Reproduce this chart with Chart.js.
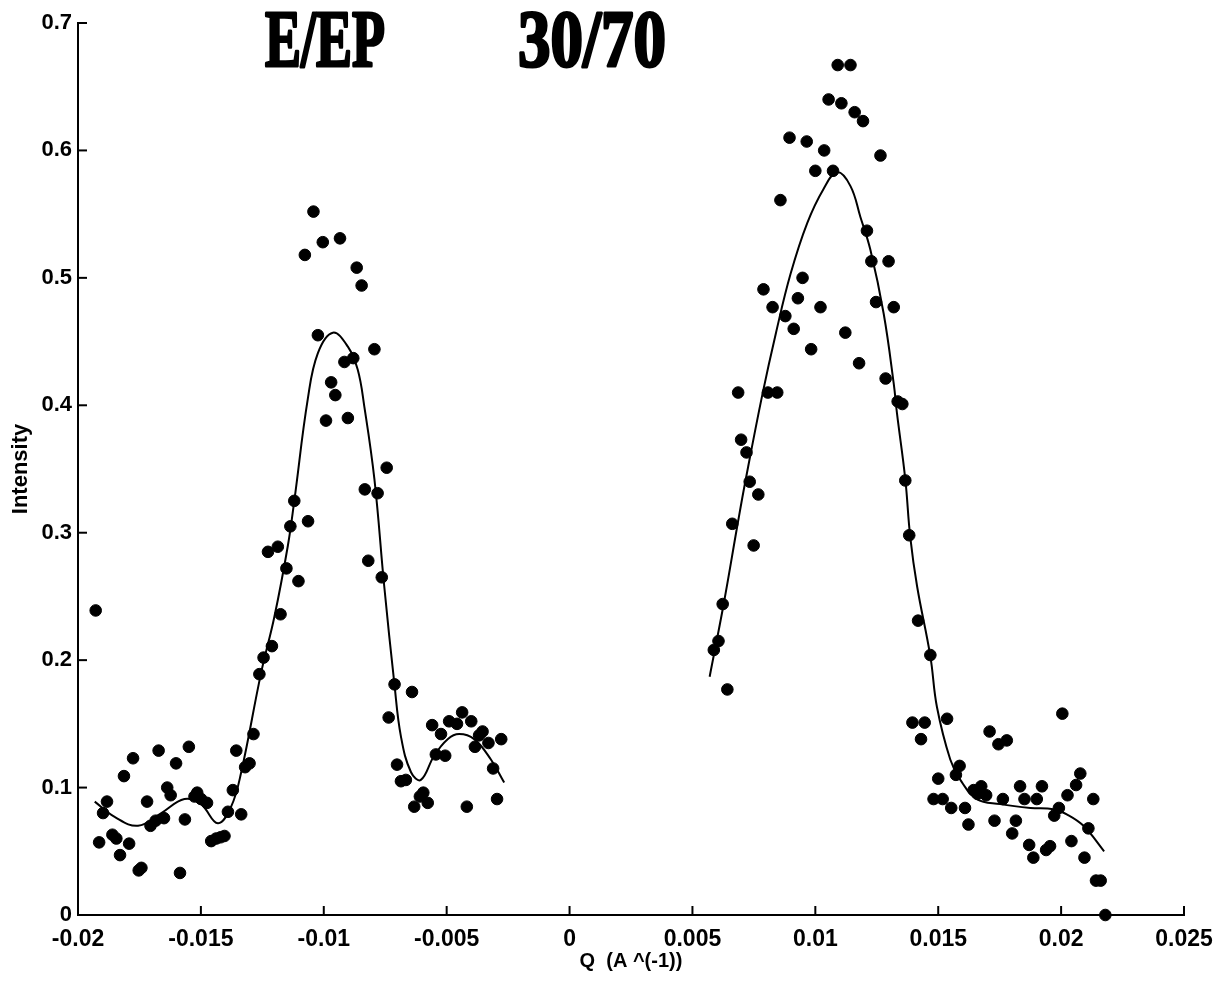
<!DOCTYPE html>
<html>
<head>
<meta charset="utf-8">
<script src="https://cdn.jsdelivr.net/npm/chart.js@4/dist/chart.umd.min.js"></script>
<style>
  html, body { margin: 0; padding: 0; background: #fff; }
  #wrap { width: 1217px; height: 981px; }
</style>
</head>
<body>
<div id="wrap"><canvas id="chart"></canvas></div>
<script>
// 測定点 (左ピーク)
const leftQ = [-0.01928, -0.01882, -0.01898, -0.01914, -0.0186, -0.01844, -0.01829, -0.01813, -0.01792, -0.01776,
  -0.01753, -0.01742, -0.01719, -0.01705, -0.01684, -0.01672, -0.0165, -0.01637, -0.01623, -0.01601,
  -0.01585, -0.01565, -0.01549, -0.01526, -0.01515, -0.01499, -0.01475, -0.01458, -0.01438, -0.0142,
  -0.01404, -0.0139, -0.0137, -0.01356, -0.01336, -0.0132, -0.01302, -0.01286, -0.01262, -0.01245,
  -0.01211, -0.01176, -0.01103, -0.01152, -0.01227, -0.01187, -0.01042, -0.01077, -0.01004, -0.00934,
  -0.00866, -0.00846, -0.01024, -0.00794, -0.0088, -0.00916, -0.0097, -0.00953, -0.00991, -0.00902,
  -0.00744, -0.00833, -0.00781, -0.0112, -0.01064, -0.01136, -0.00819, -0.00764, -0.00712, -0.00641,
  -0.00736, -0.00437, -0.00559, -0.0049, -0.00458, -0.004, -0.00523, -0.00354, -0.00368, -0.00278,
  -0.0033, -0.00385, -0.00544, -0.00506, -0.00702, -0.00311, -0.00686, -0.00666, -0.00595, -0.00609,
  -0.00577, -0.00632, -0.00418, -0.00295];
const leftI = [0.239, 0.089, 0.080, 0.057, 0.063, 0.060, 0.047, 0.109, 0.056, 0.123,
  0.035, 0.037, 0.089, 0.070, 0.074, 0.129, 0.076, 0.100, 0.094, 0.119,
  0.033, 0.075, 0.132, 0.093, 0.096, 0.091, 0.088, 0.058, 0.060, 0.061,
  0.062, 0.081, 0.098, 0.129, 0.079, 0.116, 0.119, 0.142, 0.189, 0.202,
  0.211, 0.236, 0.262, 0.272, 0.285, 0.289, 0.552, 0.518, 0.528, 0.531,
  0.508, 0.494, 0.455, 0.444, 0.437, 0.434, 0.418, 0.408, 0.388, 0.390,
  0.351, 0.334, 0.331, 0.325, 0.309, 0.305, 0.278, 0.265, 0.181, 0.175,
  0.155, 0.159, 0.149, 0.152, 0.150, 0.152, 0.142, 0.144, 0.141, 0.138,
  0.135, 0.132, 0.126, 0.125, 0.118, 0.115, 0.105, 0.106, 0.096, 0.093,
  0.088, 0.085, 0.085, 0.091];

// 測定点 (右ピーク)
const rightQ = [0.01091, 0.01143, 0.01054, 0.01106, 0.0116, 0.01194, 0.00895, 0.00965, 0.01036, 0.01265,
  0.01, 0.01072, 0.00858, 0.0121, 0.01228, 0.01298, 0.00948, 0.00789, 0.00929, 0.00826,
  0.01021, 0.01247, 0.01319, 0.00878, 0.00912, 0.01122, 0.00983, 0.01178, 0.01286, 0.00686,
  0.00807, 0.00845, 0.01335, 0.01354, 0.00698, 0.0072, 0.00733, 0.00768, 0.00662, 0.00749,
  0.01366, 0.01382, 0.01418, 0.01468, 0.00623, 0.00606, 0.00587, 0.00642, 0.01395, 0.01445,
  0.01536, 0.0143, 0.02005, 0.01709, 0.01745, 0.01779, 0.01587, 0.01572, 0.015, 0.02078,
  0.02061, 0.01644, 0.01675, 0.0166, 0.01695, 0.01833, 0.01922, 0.02026, 0.01481, 0.01518,
  0.01763, 0.01851, 0.01901, 0.02131, 0.01553, 0.01609, 0.01991, 0.01972, 0.01623, 0.01729,
  0.01816, 0.01801, 0.02111, 0.02042, 0.0187, 0.01887, 0.01939, 0.01955, 0.02095, 0.02142,
  0.02161, 0.0218];
const rightI = [0.667, 0.667, 0.640, 0.637, 0.630, 0.623, 0.610, 0.607, 0.600, 0.596,
  0.584, 0.584, 0.561, 0.537, 0.513, 0.513, 0.500, 0.491, 0.484, 0.477,
  0.477, 0.481, 0.477, 0.470, 0.460, 0.457, 0.444, 0.433, 0.421, 0.410,
  0.410, 0.410, 0.403, 0.401, 0.373, 0.363, 0.340, 0.330, 0.307, 0.290,
  0.341, 0.298, 0.231, 0.204, 0.244, 0.215, 0.208, 0.177, 0.151, 0.151,
  0.154, 0.138, 0.158, 0.144, 0.134, 0.137, 0.117, 0.110, 0.107, 0.111,
  0.102, 0.098, 0.101, 0.095, 0.094, 0.101, 0.101, 0.094, 0.091, 0.091,
  0.091, 0.091, 0.091, 0.091, 0.084, 0.084, 0.084, 0.078, 0.071, 0.074,
  0.074, 0.064, 0.068, 0.058, 0.055, 0.045, 0.051, 0.054, 0.045, 0.027,
  0.027, 0.0];

// フィット曲線
const fitLeftQ = [-0.01932, -0.01851, -0.01756, -0.01661, -0.01567, -0.015, -0.01431, -0.01377, -0.01336, -0.01255,
  -0.01201, -0.01146, -0.0112, -0.01065, -0.01024, -0.00963, -0.00902, -0.00862, -0.00835, -0.00794,
  -0.00754, -0.00713, -0.00686, -0.00645, -0.00605, -0.00551, -0.00496, -0.00449, -0.00388, -0.0032, -0.00266];
const fitLeftI = [0.089, 0.077, 0.070, 0.080, 0.091, 0.087, 0.072, 0.085, 0.112, 0.190,
  0.234, 0.290, 0.325, 0.405, 0.441, 0.457, 0.446, 0.428, 0.399, 0.342,
  0.258, 0.182, 0.140, 0.112, 0.106, 0.125, 0.138, 0.142, 0.138, 0.122, 0.104];
const fitRightQ = [0.0057, 0.00628, 0.00684, 0.00715, 0.00784, 0.0084, 0.00899, 0.00967, 0.01034, 0.01089,
  0.01143, 0.01183, 0.01224, 0.01278, 0.01319, 0.01332, 0.01366, 0.01386, 0.01414, 0.01468,
  0.01495, 0.01549, 0.0159, 0.01657, 0.01752, 0.01875, 0.01969, 0.02023, 0.02091, 0.02175];
const fitRightI = [0.187, 0.245, 0.307, 0.340, 0.408, 0.457, 0.503, 0.543, 0.570, 0.583,
  0.572, 0.548, 0.522, 0.472, 0.417, 0.394, 0.342, 0.297, 0.258, 0.203,
  0.163, 0.122, 0.106, 0.091, 0.087, 0.084, 0.083, 0.079, 0.070, 0.050];

// 目盛り
const xTickValues = [-0.02, -0.015, -0.01, -0.005, 0, 0.005, 0.01, 0.015, 0.02, 0.025];
const xTickLabels = ['-0.02', '-0.015', '-0.01', '-0.005', '0', '0.005', '0.01', '0.015', '0.02', '0.025'];
const yTickValues = [0, 0.1, 0.2, 0.3, 0.4, 0.5, 0.6, 0.7];
const yTickLabels = ['0', '0.1', '0.2', '0.3', '0.4', '0.5', '0.6', '0.7'];

const titleLeft = 'E/EP';
const titleRight = '30/70';

function toPoints(qs, is) {
  return qs.map((q, i) => ({ x: q, y: is[i] }));
}

const sansFamily = '"Liberation Sans", Arial, sans-serif';

// 内向きの目盛り線とタイトル
const extrasPlugin = {
  id: 'extras',
  afterDraw(chart) {
    const ctx = chart.ctx;
    const xs = chart.scales.x;
    const ys = chart.scales.y;
    const area = chart.chartArea;
    ctx.save();
    ctx.strokeStyle = '#000';
    ctx.lineWidth = 2;
    xTickValues.forEach(v => {
      const px = xs.getPixelForValue(v);
      ctx.beginPath();
      ctx.moveTo(px, area.bottom);
      ctx.lineTo(px, area.bottom - 9);
      ctx.stroke();
    });
    yTickValues.forEach(v => {
      const py = ys.getPixelForValue(v);
      ctx.beginPath();
      ctx.moveTo(area.left, py);
      ctx.lineTo(area.left + 9, py);
      ctx.stroke();
    });

    // タイトル (縦長の太字セリフ体)
    ctx.fillStyle = '#000';
    ctx.strokeStyle = '#000';
    ctx.lineWidth = 3;
    ctx.lineJoin = 'round';
    ctx.font = 'bold 80px "Liberation Serif", "Times New Roman", serif';
    ctx.textBaseline = 'alphabetic';
    ctx.textAlign = 'left';
    const drawSquashed = (text, x, targetWidth) => {
      const w = ctx.measureText(text).width;
      ctx.save();
      ctx.translate(x, 66);
      ctx.scale(targetWidth / w, 1);
      ctx.fillText(text, 0, 0);
      ctx.strokeText(text, 0, 0);
      ctx.restore();
    };
    drawSquashed(titleLeft, 265, 120);
    drawSquashed(titleRight, 518, 148);
    ctx.restore();
  }
};

const ctx = document.getElementById('chart').getContext('2d');
new Chart(ctx, {
  type: 'scatter',
  data: {
    datasets: [
      {
        label: 'left',
        data: toPoints(leftQ, leftI),
        backgroundColor: '#000',
        borderColor: '#000',
        pointRadius: 5.8,
        pointHoverRadius: 5.8,
        clip: false
      },
      {
        label: 'right',
        data: toPoints(rightQ, rightI),
        backgroundColor: '#000',
        borderColor: '#000',
        pointRadius: 5.8,
        pointHoverRadius: 5.8,
        clip: false
      },
      {
        label: 'fitLeft',
        data: toPoints(fitLeftQ, fitLeftI),
        showLine: true,
        borderColor: '#000',
        borderWidth: 2,
        pointRadius: 0,
        tension: 0.4
      },
      {
        label: 'fitRight',
        data: toPoints(fitRightQ, fitRightI),
        showLine: true,
        borderColor: '#000',
        borderWidth: 2,
        pointRadius: 0,
        tension: 0.4
      }
    ]
  },
  options: {
    responsive: true,
    maintainAspectRatio: false,
    animation: false,
    events: [],
    layout: { padding: { left: 0, right: 33, top: 23, bottom: 0 } },
    plugins: {
      legend: { display: false },
      tooltip: { enabled: false }
    },
    scales: {
      x: {
        type: 'linear',
        min: -0.02,
        max: 0.025,
        grid: { display: false, drawTicks: false },
        border: { display: true, color: '#000', width: 2 },
        afterBuildTicks: scale => { scale.ticks = xTickValues.map(v => ({ value: v })); },
        afterFit: scale => {
          scale.height = 66;
          scale.paddingLeft = 0;
          scale.paddingRight = 0;
        },
        ticks: {
          color: '#000',
          font: { family: sansFamily, size: 23, weight: 'bold' },
          padding: 11,
          maxRotation: 0,
          autoSkip: false,
          callback: (v, i) => xTickLabels[i]
        },
        title: {
          display: true,
          text: 'Q  (A ^(-1))',
          color: '#000',
          font: { family: sansFamily, size: 20, weight: 'bold' },
          padding: { top: 0, bottom: 8 }
        }
      },
      y: {
        type: 'linear',
        min: 0,
        max: 0.7,
        grid: { display: false, drawTicks: false },
        border: { display: true, color: '#000', width: 2 },
        afterBuildTicks: scale => { scale.ticks = yTickValues.map(v => ({ value: v })); },
        afterFit: scale => { scale.width = 78; },
        ticks: {
          color: '#000',
          font: { family: sansFamily, size: 22, weight: 'bold' },
          padding: 6,
          callback: (v, i) => yTickLabels[i]
        },
        title: {
          display: true,
          text: 'Intensity',
          color: '#000',
          font: { family: sansFamily, size: 22, weight: 'bold' },
          padding: { top: 8, bottom: 0 }
        }
      }
    }
  },
  plugins: [extrasPlugin]
});
</script>
</body>
</html>
